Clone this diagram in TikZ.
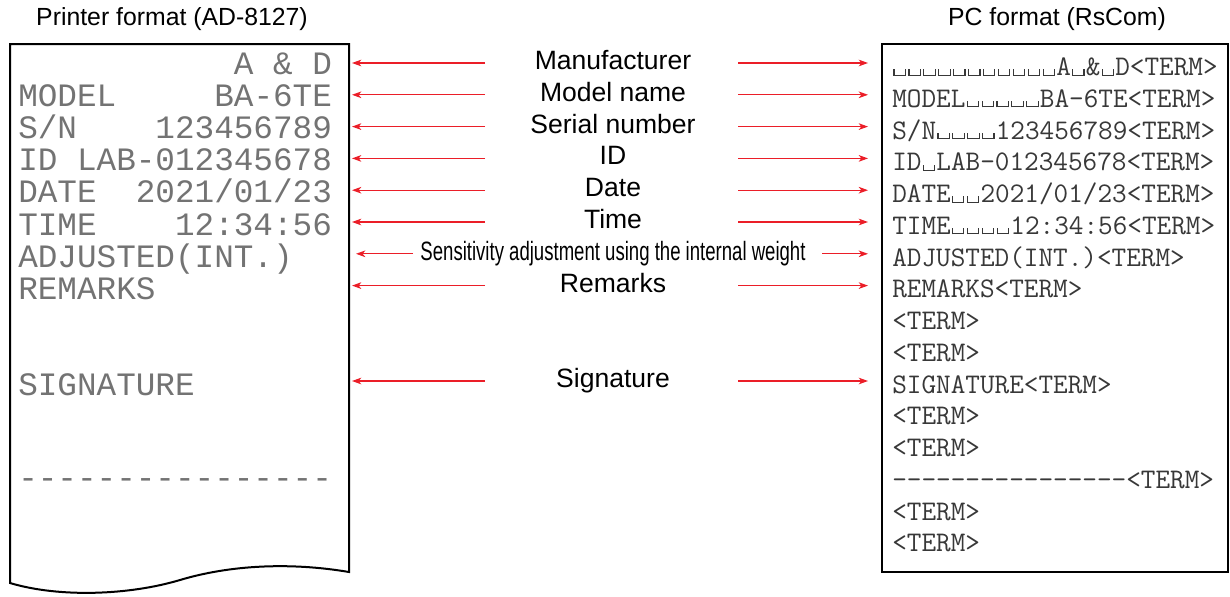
\documentclass[tikz,border=0pt]{standalone}
\usepackage{graphicx}
\usepackage{fontspec}
\setmainfont{Liberation Sans}
\newfontfamily\prmono{Liberation Mono}
\usetikzlibrary{arrows.meta}
\definecolor{arr}{RGB}{235,30,40}
\newcommand\vsp{\makebox[0.525em][c]{\rule{0.04em}{0.22em}\rule{0.36em}{0.04em}\rule{0.04em}{0.22em}}}
\begin{document}
\begin{tikzpicture}[x=0.75pt,y=-0.75pt,
  titletext/.style={font=\fontsize{18.6}{22}\selectfont, inner sep=0},
  lab/.style={font=\fontsize{19.9}{24}\selectfont, inner sep=0, anchor=base},
  prn/.style={font=\prmono\fontsize{24.5}{28}\selectfont, text=black!55, inner sep=0, anchor=base west},
  pc/.style={font=\ttfamily\fontsize{21.3}{24}\selectfont, text=black!78, inner sep=0, anchor=base west},
  redarrow/.style={draw=arr, line width=0.8pt, -{Stealth[length=7pt,width=5pt,inset=2pt]}},
  frame/.style={line width=1.5pt}]
\useasboundingbox (0,0) rectangle (1230,596);

% titles
\node[titletext] (t1) at (172,19) {Printer format (AD-8127)};
\node[titletext] (t2) at (1057,19) {PC format (RsCom)};

% paper
\draw[frame] (10,583) -- (10,44) -- (349,44) -- (349,572)
  .. controls (290,562) and (230,565) .. (180,580)
  .. controls (130,595) and (60,598) .. (10,583) -- cycle;

% PC box
\draw[frame] (882,44) rectangle (1228,572);

% printer lines
\node[prn] (p0) at (233.6,74.5) {A~\&~D};
\node[prn] (p1) at (18,106.6) {MODEL~~~~~BA-6TE};
\node[prn] (p2) at (18,138.7) {S/N~~~~123456789};
\node[prn] (p3) at (18,170.8) {ID~LAB-012345678};
\node[prn] (p4) at (18,202.9) {DATE~~2021/01/23};
\node[prn] (p5) at (18,235.0) {TIME~~~~12:34:56};
\node[prn] (p6) at (18,267.1) {ADJUSTED(INT.)};
\node[prn] (p7) at (18,299.2) {REMARKS};
\node[prn] (p10) at (18,395.5) {SIGNATURE};
\node[prn] (p13) at (18,488.8) {-{}-{}-{}-{}-{}-{}-{}-{}-{}-{}-{}-{}-{}-{}-{}-{}};

% PC lines
\node[pc] (r0) at (892,75.7) {\vsp\vsp\vsp\vsp\vsp\vsp\vsp\vsp\vsp\vsp\vsp{}A\vsp{}\&\vsp{}D<TERM>};
\node[pc] (r1) at (892,107.45) {MODEL\vsp\vsp\vsp\vsp\vsp{}BA-6TE<TERM>};
\node[pc] (r2) at (892,139.2) {S/N\vsp\vsp\vsp\vsp{}123456789<TERM>};
\node[pc] (r3) at (892,170.95) {ID\vsp{}LAB-012345678<TERM>};
\node[pc] (r4) at (892,202.7) {DATE\vsp\vsp{}2021/01/23<TERM>};
\node[pc] (r5) at (892,234.45) {TIME\vsp\vsp\vsp\vsp{}12:34:56<TERM>};
\node[pc] (r6) at (892,266.2) {ADJUSTED(INT.)<TERM>};
\node[pc] (r7) at (892,297.95) {REMARKS<TERM>};
\node[pc] (r8) at (892,329.7) {<TERM>};
\node[pc] (r9) at (892,361.45) {<TERM>};
\node[pc] (r10) at (892,393.2) {SIGNATURE<TERM>};
\node[pc] (r11) at (892,424.95) {<TERM>};
\node[pc] (r12) at (892,456.7) {<TERM>};
\node[pc] (r13) at (892,488.45) {-{}-{}-{}-{}-{}-{}-{}-{}-{}-{}-{}-{}-{}-{}-{}-{}<TERM>};
\node[pc] (r14) at (892,520.2) {<TERM>};
\node[pc] (r15) at (892,551.95) {<TERM>};

% labels
\node[lab] (l0) at (613,69.5) {Manufacturer};
\node[lab] (l1) at (613,101.3) {Model name};
\node[lab] (l2) at (613,133.1) {Serial number};
\node[lab] (l3) at (613,164.9) {ID};
\node[lab] (l4) at (613,196.7) {Date};
\node[lab] (l5) at (613,228.5) {Time};
\node[lab] (l6) at (613,260.3) {\scalebox{0.70}[1]{Sensitivity adjustment using the internal weight}};
\node[lab] (l7) at (613,292.1) {Remarks};
\node[lab] (l10) at (613,387.5) {Signature};

% arrow end points
\foreach \i/\y in {0/63,1/94.8,2/126.6,3/158.4,4/190.2,5/222,7/285.6,10/381}{
  \coordinate (ls\i) at (485,\y);
  \coordinate (lt\i) at (352,\y);
  \coordinate (rs\i) at (738,\y);
  \coordinate (rt\i) at (868,\y);
}
\coordinate (ls6) at (413,253.8);
\coordinate (lt6) at (356,253.8);
\coordinate (rs6) at (822,253.8);
\coordinate (rt6) at (868,253.8);

\foreach \i in {0,1,2,3,4,5,6,7,10}{
  \draw[redarrow] (ls\i) -- (lt\i);
  \draw[redarrow] (rs\i) -- (rt\i);
}
\end{tikzpicture}
\end{document}
